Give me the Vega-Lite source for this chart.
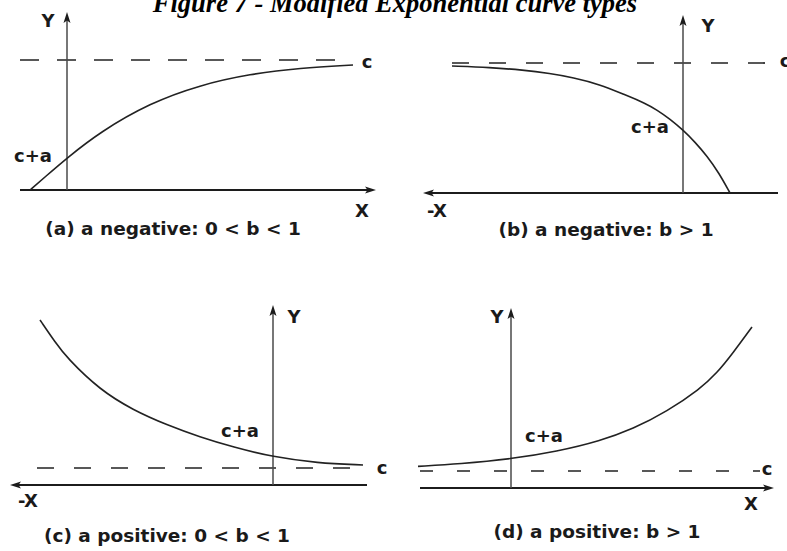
{
  "$schema": "https://vega.github.io/schema/vega-lite/v6.json",
  "width": 787,
  "height": 551,
  "autosize": {"type": "none"},
  "padding": 0,
  "background": "white",
  "config": {"view": {"stroke": null}},
  "datasets": {
    "guides": [
      {"panel": "a", "x": 20, "x2": 345, "y": 60},
      {"panel": "b", "x": 452, "x2": 777, "y": 63},
      {"panel": "c", "x": 37, "x2": 365, "y": 468},
      {"panel": "d", "x": 420, "x2": 760, "y": 471}
    ],
    "axes": [
      {"panel": "a", "kind": "x", "x": 20, "y": 190, "x2": 370, "y2": 190},
      {"panel": "a", "kind": "y", "x": 67, "y": 190, "x2": 67, "y2": 17},
      {"panel": "b", "kind": "x", "x": 428, "y": 193, "x2": 778, "y2": 193},
      {"panel": "b", "kind": "y", "x": 683, "y": 193, "x2": 683, "y2": 20},
      {"panel": "c", "kind": "x", "x": 15, "y": 485, "x2": 367, "y2": 485},
      {"panel": "c", "kind": "y", "x": 273, "y": 485, "x2": 273, "y2": 310},
      {"panel": "d", "kind": "x", "x": 420, "y": 488, "x2": 768, "y2": 488},
      {"panel": "d", "kind": "y", "x": 511, "y": 488, "x2": 511, "y2": 313}
    ],
    "arrows": [
      {"panel": "a", "dir": "up", "x": 67, "y": 12},
      {"panel": "a", "dir": "right", "x": 376, "y": 190},
      {"panel": "b", "dir": "up", "x": 683, "y": 15},
      {"panel": "b", "dir": "left", "x": 423, "y": 193},
      {"panel": "c", "dir": "up", "x": 273, "y": 305},
      {"panel": "c", "dir": "left", "x": 10, "y": 485},
      {"panel": "d", "dir": "up", "x": 511, "y": 308},
      {"panel": "d", "dir": "right", "x": 774, "y": 488}
    ],
    "curves": [
      {"panel": "a", "i": 0, "x": 30, "y": 190},
      {"panel": "a", "i": 1, "x": 45, "y": 177},
      {"panel": "a", "i": 2, "x": 67, "y": 158},
      {"panel": "a", "i": 3, "x": 100, "y": 132},
      {"panel": "a", "i": 4, "x": 150, "y": 103},
      {"panel": "a", "i": 5, "x": 200, "y": 85},
      {"panel": "a", "i": 6, "x": 250, "y": 74},
      {"panel": "a", "i": 7, "x": 300, "y": 68},
      {"panel": "a", "i": 8, "x": 353, "y": 65},
      {"panel": "b", "i": 0, "x": 452, "y": 66},
      {"panel": "b", "i": 1, "x": 490, "y": 67.5},
      {"panel": "b", "i": 2, "x": 523, "y": 70},
      {"panel": "b", "i": 3, "x": 550, "y": 73.5},
      {"panel": "b", "i": 4, "x": 573, "y": 77.5},
      {"panel": "b", "i": 5, "x": 600, "y": 84.5},
      {"panel": "b", "i": 6, "x": 623, "y": 94},
      {"panel": "b", "i": 7, "x": 645, "y": 103},
      {"panel": "b", "i": 8, "x": 657, "y": 110},
      {"panel": "b", "i": 9, "x": 670, "y": 119},
      {"panel": "b", "i": 10, "x": 683, "y": 130},
      {"panel": "b", "i": 11, "x": 695, "y": 142},
      {"panel": "b", "i": 12, "x": 707, "y": 156},
      {"panel": "b", "i": 13, "x": 719, "y": 173},
      {"panel": "b", "i": 14, "x": 730, "y": 193},
      {"panel": "c", "i": 0, "x": 40, "y": 320},
      {"panel": "c", "i": 1, "x": 55, "y": 342},
      {"panel": "c", "i": 2, "x": 67, "y": 358},
      {"panel": "c", "i": 3, "x": 100, "y": 390},
      {"panel": "c", "i": 4, "x": 133, "y": 410},
      {"panel": "c", "i": 5, "x": 167, "y": 425},
      {"panel": "c", "i": 6, "x": 200, "y": 437},
      {"panel": "c", "i": 7, "x": 233, "y": 447},
      {"panel": "c", "i": 8, "x": 273, "y": 457},
      {"panel": "c", "i": 9, "x": 317, "y": 463},
      {"panel": "c", "i": 10, "x": 363, "y": 465},
      {"panel": "d", "i": 0, "x": 418, "y": 466.4},
      {"panel": "d", "i": 1, "x": 460, "y": 463.9},
      {"panel": "d", "i": 2, "x": 511, "y": 459},
      {"panel": "d", "i": 3, "x": 557, "y": 451.5},
      {"panel": "d", "i": 4, "x": 600, "y": 441},
      {"panel": "d", "i": 5, "x": 633, "y": 429},
      {"panel": "d", "i": 6, "x": 667, "y": 411.5},
      {"panel": "d", "i": 7, "x": 700, "y": 389},
      {"panel": "d", "i": 8, "x": 717, "y": 373},
      {"panel": "d", "i": 9, "x": 733, "y": 353},
      {"panel": "d", "i": 10, "x": 752, "y": 327}
    ],
    "labels": [
      {"panel": "a", "text": "Y", "x": 48, "y": 27},
      {"panel": "a", "text": "X", "x": 362, "y": 217},
      {"panel": "a", "text": "c", "x": 367, "y": 68},
      {"panel": "a", "text": "c+a", "x": 33, "y": 162},
      {"panel": "b", "text": "Y", "x": 708, "y": 32},
      {"panel": "b", "text": "-X", "x": 437, "y": 217},
      {"panel": "b", "text": "c", "x": 785, "y": 67},
      {"panel": "b", "text": "c+a", "x": 650, "y": 133},
      {"panel": "c", "text": "Y", "x": 294, "y": 323},
      {"panel": "c", "text": "-X", "x": 28, "y": 507},
      {"panel": "c", "text": "c", "x": 382, "y": 474},
      {"panel": "c", "text": "c+a", "x": 240, "y": 437},
      {"panel": "d", "text": "Y", "x": 497, "y": 323},
      {"panel": "d", "text": "X", "x": 751, "y": 510},
      {"panel": "d", "text": "c", "x": 767, "y": 475},
      {"panel": "d", "text": "c+a", "x": 544, "y": 442}
    ],
    "captions": [
      {"panel": "a", "text": "(a) a negative: 0 < b < 1", "x": 173, "y": 235},
      {"panel": "b", "text": "(b) a negative: b > 1", "x": 606, "y": 236},
      {"panel": "c", "text": "(c) a positive: 0 < b < 1", "x": 167, "y": 542},
      {"panel": "d", "text": "(d) a positive: b > 1", "x": 597, "y": 538}
    ],
    "heading": [
      {"text": "Figure 7 - Modified Exponential curve types", "x": 395, "y": 12}
    ]
  },
  "encoding": {
    "x": {"field": "x", "type": "quantitative", "axis": null, "scale": {"domain": [0, 787], "nice": false, "zero": false}},
    "y": {"field": "y", "type": "quantitative", "axis": null, "scale": {"domain": [0, 551], "nice": false, "zero": false, "reverse": true}}
  },
  "layer": [
    {
      "data": {"name": "guides"},
      "mark": {"type": "rule", "stroke": "#222222", "strokeWidth": 1.7},
      "encoding": {
        "x2": {"field": "x2"},
        "strokeDash": {
          "field": "panel",
          "type": "nominal",
          "scale": {"domain": ["a", "b", "c", "d"], "range": [[19, 18], [17, 20], [17, 20], [13, 24]]},
          "legend": null
        }
      }
    },
    {
      "data": {"name": "axes"},
      "mark": {"type": "rule"},
      "encoding": {
        "x2": {"field": "x2"},
        "y2": {"field": "y2"},
        "color": {"field": "kind", "type": "nominal", "scale": {"domain": ["x", "y"], "range": ["#1c1c1c", "#4a4a4a"]}, "legend": null},
        "strokeWidth": {"field": "kind", "type": "nominal", "scale": {"domain": ["x", "y"], "range": [2, 1.5]}, "legend": null}
      }
    },
    {
      "data": {"name": "curves"},
      "mark": {"type": "line", "stroke": "#222222", "strokeWidth": 1.6, "interpolate": "basis"},
      "encoding": {
        "detail": {"field": "panel", "type": "nominal"},
        "order": {"field": "i", "type": "quantitative"}
      }
    },
    {
      "data": {"name": "arrows"},
      "mark": {"type": "point", "filled": true, "opacity": 1, "size": 100, "color": "#1c1c1c", "strokeWidth": 0},
      "encoding": {
        "shape": {
          "field": "dir",
          "type": "nominal",
          "scale": {
            "domain": ["up", "left", "right"],
            "range": ["M0,0L0.7,2.2L0,1.7L-0.7,2.2Z", "M0,0L2.2,0.7L1.7,0L2.2,-0.7Z", "M0,0L-2.2,0.7L-1.7,0L-2.2,-0.7Z"]
          },
          "legend": null
        }
      }
    },
    {
      "data": {"name": "labels"},
      "mark": {"type": "text", "font": "DejaVu Sans", "fontWeight": "bold", "fontSize": 18, "align": "center", "baseline": "alphabetic", "color": "#1a1a1a"},
      "encoding": {"text": {"field": "text"}}
    },
    {
      "data": {"name": "captions"},
      "mark": {"type": "text", "font": "DejaVu Sans", "fontWeight": "bold", "fontSize": 18.5, "align": "center", "baseline": "alphabetic", "color": "#1a1a1a"},
      "encoding": {"text": {"field": "text"}}
    },
    {
      "data": {"name": "heading"},
      "mark": {"type": "text", "font": "Liberation Serif", "fontWeight": "bold", "fontStyle": "italic", "fontSize": 26.5, "align": "center", "baseline": "alphabetic", "color": "#000000"},
      "encoding": {"text": {"field": "text"}}
    }
  ]
}
